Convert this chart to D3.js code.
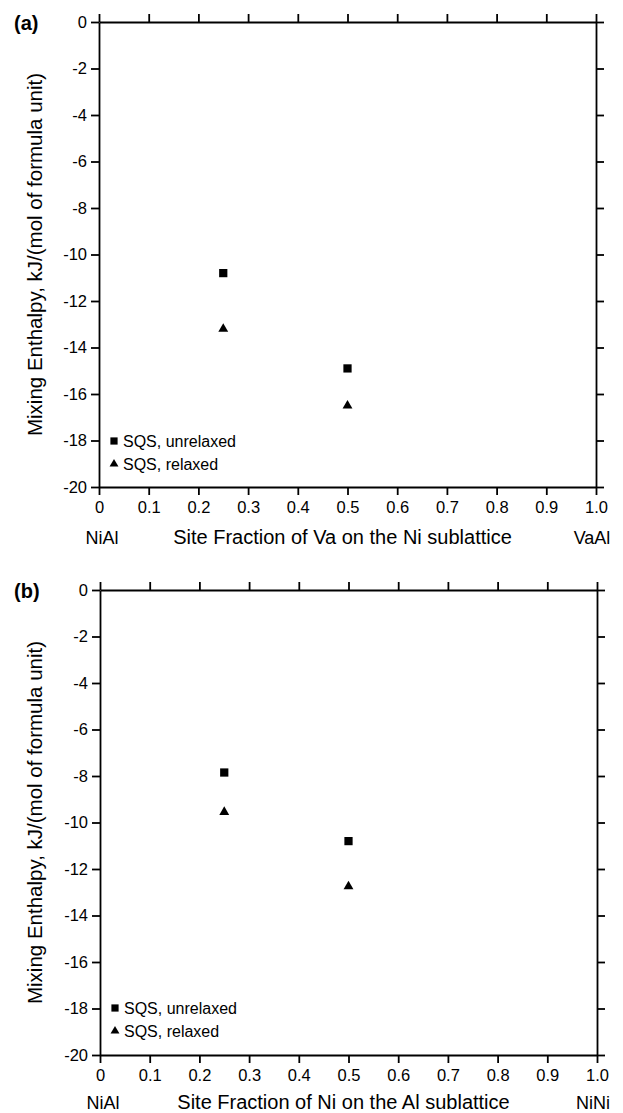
<!DOCTYPE html>
<html><head><meta charset="utf-8">
<script src="https://cdn.jsdelivr.net/npm/d3@7/dist/d3.min.js"></script>
<style>
html,body{margin:0;padding:0;background:#fff;}
svg text{font-family:"Liberation Sans",Arial,Helvetica,sans-serif;fill:#000;}
</style></head>
<body>
<svg id="chart" width="623" height="1113"></svg>
<script>
// ---- data ----
const xTicks = [0, 0.1, 0.2, 0.3, 0.4, 0.5, 0.6, 0.7, 0.8, 0.9, 1.0];
const xTickLabels = ["0", "0.1", "0.2", "0.3", "0.4", "0.5", "0.6", "0.7", "0.8", "0.9", "1.0"];
const yTicks = [0, -2, -4, -6, -8, -10, -12, -14, -16, -18, -20];
const yTickLabels = ["0", "-2", "-4", "-6", "-8", "-10", "-12", "-14", "-16", "-18", "-20"];
const seriesNames = ["SQS, unrelaxed", "SQS, relaxed"];

const fractionsA = [0.25, 0.5];
const unrelaxedA = [-10.8, -14.9];
const relaxedA = [-13.2, -16.5];

const fractionsB = [0.25, 0.5];
const unrelaxedB = [-7.85, -10.8];
const relaxedB = [-9.55, -12.75];

const panelLabels = ["(a)", "(b)"];
const xTitles = ["Site Fraction of Va on the Ni sublattice", "Site Fraction of Ni on the Al sublattice"];
const leftEnds = ["NiAl", "NiAl"];
const rightEnds = ["VaAl", "NiNi"];
const yTitle = "Mixing Enthalpy, kJ/(mol of formula unit)";

// ---- drawing ----
const svg = d3.select("#chart");
const panels = [
  {x0: 99, x1: 596, y0: 22, y1: 487, fr: fractionsA, un: unrelaxedA, re: relaxedA, legY: 441, titleOff: 57},
  {x0: 100, x1: 597, y0: 590, y1: 1055, fr: fractionsB, un: unrelaxedB, re: relaxedB, legY: 1008, titleOff: 54}
];

panels.forEach((p, i) => {
  const x = d3.scaleLinear().domain([0, 1]).range([p.x0, p.x1]);
  const y = d3.scaleLinear().domain([-20, 0]).range([p.y1, p.y0]);
  const g = svg.append("g");
  const tickLen = 8;
  const fmtX = d => xTickLabels[xTicks.indexOf(d)];
  const fmtY = d => yTickLabels[yTicks.indexOf(d)];

  const styleAxis = sel => {
    sel.selectAll("path.domain").attr("stroke", "#000").attr("stroke-width", 1.8);
    sel.selectAll(".tick line").attr("stroke", "#000").attr("stroke-width", 1.8);
    sel.selectAll(".tick text").style("font-size", "16.5px").style("font-family", "'Liberation Sans',Arial,sans-serif").attr("fill", "#000");
  };

  g.append("g").attr("transform", `translate(0,${p.y1})`)
    .call(d3.axisBottom(x).tickValues(xTicks).tickFormat(fmtX).tickSize(tickLen).tickSizeOuter(0).tickPadding(6))
    .call(styleAxis);
  g.append("g").attr("transform", `translate(0,${p.y0})`)
    .call(d3.axisTop(x).tickValues(xTicks).tickFormat("").tickSize(tickLen).tickSizeOuter(0))
    .call(styleAxis);
  g.append("g").attr("transform", `translate(${p.x0},0)`)
    .call(d3.axisLeft(y).tickValues(yTicks).tickFormat(fmtY).tickSize(tickLen).tickSizeOuter(0).tickPadding(4))
    .call(styleAxis);
  g.append("g").attr("transform", `translate(${p.x1},0)`)
    .call(d3.axisRight(y).tickValues(yTicks).tickFormat("").tickSize(tickLen).tickSizeOuter(0))
    .call(styleAxis);

  // markers
  const sq = d3.symbol().type(d3.symbolSquare).size(68);
  const tri = d3.symbol().type(d3.symbolTriangle).size(42);
  g.selectAll("path.un").data(p.fr.map((f, k) => [f, p.un[k]])).enter().append("path")
    .attr("class", "un").attr("d", sq).attr("fill", "#000")
    .attr("transform", d => `translate(${x(d[0])},${y(d[1])})`);
  g.selectAll("path.re").data(p.fr.map((f, k) => [f, p.re[k]])).enter().append("path")
    .attr("class", "re").attr("d", tri).attr("fill", "#000")
    .attr("transform", d => `translate(${x(d[0])},${y(d[1])})`);

  // legend
  g.append("path").attr("d", d3.symbol().type(d3.symbolSquare).size(52)).attr("fill", "#000")
    .attr("transform", `translate(${p.x0 + 15},${p.legY})`);
  g.append("text").attr("x", p.x0 + 24).attr("y", p.legY + 5.5).style("font-size", "16px").text(seriesNames[0]);
  g.append("path").attr("d", d3.symbol().type(d3.symbolTriangle).size(34)).attr("fill", "#000")
    .attr("transform", `translate(${p.x0 + 15},${p.legY + 23})`);
  g.append("text").attr("x", p.x0 + 24).attr("y", p.legY + 28.5).style("font-size", "16px").text(seriesNames[1]);

  // titles
  g.append("text").attr("x", 14).attr("y", p.y0 + 8).style("font-size", "20px").style("font-weight", "bold").text(panelLabels[i]);
  g.append("text").attr("transform", `translate(42,${(p.y0 + p.y1) / 2}) rotate(-90)`)
    .attr("text-anchor", "middle").style("font-size", "20.5px").text(yTitle);
  g.append("text").attr("x", (p.x0 + p.x1) / 2 - 5).attr("y", p.y1 + p.titleOff).attr("text-anchor", "middle")
    .style("font-size", "20px").text(xTitles[i]);
  g.append("text").attr("x", x(0) + 3).attr("y", p.y1 + p.titleOff).attr("text-anchor", "middle")
    .style("font-size", "18px").text(leftEnds[i]);
  g.append("text").attr("x", x(1) - 4).attr("y", p.y1 + p.titleOff).attr("text-anchor", "middle")
    .style("font-size", "18px").text(rightEnds[i]);
});
</script>
</body></html>
